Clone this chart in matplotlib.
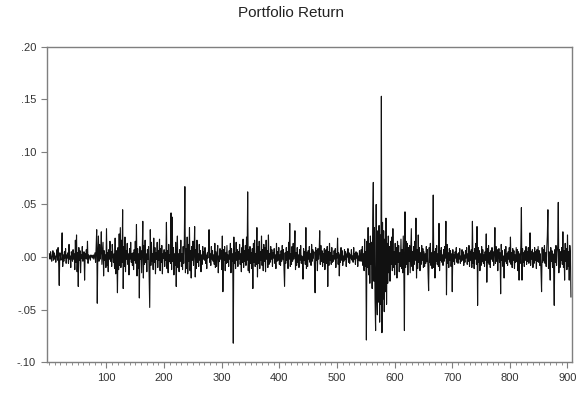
import numpy as np
import matplotlib
matplotlib.use("Agg")
import matplotlib.pyplot as plt
from matplotlib.ticker import FixedLocator, MultipleLocator, FuncFormatter

# Portfolio returns, in thousandths (obs 1..906)
ret_001_100 = [3, -2, 5, -1, -4, 2, 6, -3, 4, -2,
               1, -5, 2, 7, -3, 9, -6, -27, 4, 1,
               -3, 6, 23, -9, 2, -4, 5, -1, 8, -6,
               2, -1, 4, -6, 12, -2, 1, -10, 5, 0,
               -4, 7, -2, 3, -12, 16, -5, 21, -14, 4,
               -28, 9, -3, 6, -15, 2, -1, 10, -4, 1,
               5, -22, 3, -1, 7, -2, 15, -6, 2, -1,
               1, -3, 2, 0, 1, -1, 2, -2, 1, 4,
               -5, 9, 26, -44, 6, 20, -4, 12, -2, 5,
               24, -7, 3, 14, -18, 6, -3, 2, -10, 27]
ret_101_200 = [-8, 4, -14, 7, -2, 15, -4, 5, -9, 12,
               2, -5, 3, -11, 18, -16, 6, -3, -34, 9,
               -12, 22, -8, 28, -10, 16, -5, 45, -30, 10,
               -9, 19, -14, 6, -2, 13, -7, 3, -17, 8,
               -2, 14, -5, 3, -8, 4, -12, 7, -3, 15,
               -6, 31, -18, 8, -11, 3, -39, 10, -2, 6,
               -15, 5, 34, -20, 11, -7, 16, -5, 3, -14,
               7, -2, 10, -19, -48, 26, -8, 14, -4, 3,
               -12, 18, -5, 9, -16, 4, -2, 14, -10, 6,
               -3, 17, -13, 8, -5, 11, -16, 3, -1, 7]
ret_201_300 = [-9, 4, -3, 33, -11, 6, -15, 12, -4, 2,
               -6, 42, -12, 38, -4, 9, -17, 3, -8, 14,
               -28, 5, 20, -10, 3, -14, 7, -4, 16, -9,
               3, -12, 10, -6, 14, 67, -15, 8, -11, 19,
               -16, 12, -4, 28, -13, 6, -20, 10, -3, 15,
               -8, 4, 29, -19, 7, -11, 16, -5, 3, -9,
               12, -3, 6, -14, 2, -7, 10, -2, 5, -3,
               9, -6, 2, -11, 4, -1, 7, 26, -5, 3,
               -8, 10, -2, 6, -4, 2, -7, 13, -10, 5,
               -9, 3, 11, -15, 1, -4, 8, -2, 6, -12]
ret_301_400 = [20, -33, 7, -3, 10, -13, 4, -6, 11, -5,
               2, -9, 6, -2, 13, -15, 8, -4, 3, -82,
               19, -6, 4, -11, 14, -3, 7, -9, 5, -2,
               12, -7, 3, -14, 9, -5, 17, -10, 6, -4,
               11, -8, 19, -3, 62, -13, 7, -15, 10, -6,
               4, -11, 8, -30, 13, -5, 16, -9, 3, -7,
               28, -19, 10, -6, 15, -11, 5, -3, 20, -8,
               7, -13, 12, -4, 9, -14, 16, -2, 6, -10,
               21, -7, 3, -5, 10, -2, 7, -9, 4, -1,
               8, -6, 2, -11, 13, -4, 5, -3, 9, -7]
ret_401_500 = [2, -8, 6, -4, 11, -2, 7, -10, -28, 4,
               -6, 9, -3, 5, -11, 14, -2, 32, -9, 3,
               -7, 10, -4, 13, -2, 6, 25, -12, 4, -8,
               9, -5, 2, -10, 7, -3, 11, -6, 1, -4,
               -21, 8, -3, 5, -7, 28, -11, 4, -9, 6,
               -2, 10, -5, 3, -8, 12, -4, 7, -1, 5,
               -10, -34, 9, -3, 6, -13, 8, -2, 4, 25,
               -7, 11, -4, 6, -9, 3, -5, 8, -12, 2,
               7, -6, 10, -28, 5, -8, 13, -3, 4, -7,
               9, -5, 1, -4, 6, -2, 8, -10, 3, -1]
ret_501_600 = [18, -7, 4, -18, 2, -5, 9, -3, 6, -8,
               1, -4, 7, -2, 5, -9, 3, 0, 8, -5,
               4, -6, 2, -1, 7, -3, 1, -5, 9, -2,
               3, -7, 5, -1, 4, -9, 1, -3, 6, -4,
               -1, 7, -4, 10, -8, 3, -13, 17, -9, 5,
               -79, 15, -10, 28, -17, 13, -25, 20, -7, 14,
               -30, 35, 71, -23, 28, -40, -70, 50, -35, -55,
               25, -43, 30, -62, 21, -45, 153, -72, 33, -40,
               25, -52, 17, -33, 37, -45, 13, -25, 20, -15,
               10, -23, 15, -7, 19, -13, 27, -10, 5, -17]
ret_601_700 = [13, -7, 9, -20, 15, -5, 11, -14, 4, -9,
               17, -11, 7, -15, 20, -13, -70, 43, -10, 15,
               -7, 13, -17, 9, -4, 11, -15, 6, 27, -9,
               5, -13, 10, -7, 15, -3, 37, -20, 7, -11,
               21, -5, 9, -13, 4, -7, 11, -3, 8, -10,
               5, -9, 3, -6, 10, -4, 7, -15, -32, 9,
               -5, 13, -8, 4, -11, 7, 59, -10, 5, -20,
               8, -4, 11, -7, 3, -9, 32, -13, 6, -3,
               9, -5, 2, -8, 7, -4, 10, -1, 34, -36,
               12, -6, 4, -10, 8, -3, 6, -9, 3, -33]
ret_701_800 = [7, -4, 2, -7, 5, -1, 9, -5, 3, -6,
               4, -2, 8, -6, 1, -4, 7, -3, 5, -8,
               2, -5, 6, -1, 9, -7, 3, -4, 11, -9,
               5, -3, 7, -10, 34, -6, 4, -11, 8, -2,
               13, -7, 29, -46, 9, -5, 6, -13, 3, -8,
               10, -4, 7, -6, 2, -9, 5, -3, 22, -24,
               8, -5, 11, -7, 4, -10, 6, -2, 9, -4,
               5, -8, 3, 28, -6, 10, -4, 7, -13, 2,
               8, -5, 4, -35, 12, -3, 6, -9, 1, -20,
               7, -4, 10, -6, 3, -8, 5, -2, 9, -5]
ret_801_906 = [19, -7, 4, -10, 8, -3, 6, -11, 2, -5,
               9, -4, 7, -13, 5, -22, 3, -6, 11, 47,
               -22, 8, -5, 4, -9, 6, -3, 10, -7, 5,
               -4, 9, -6, 3, 23, -8, 5, -2, 7, -10,
               4, -6, 9, -3, 5, -11, 7, -4, 10, -5,
               6, -8, 3, -13, -33, 9, -5, 7, -3, 11,
               -6, 4, -9, 8, 20, 45, -11, 5, -7, -22,
               9, -4, 6, -10, 3, -13, -46, 7, -5, 11,
               -8, 4, 10, 52, -15, 7, -10, 5, -3, 9,
               -7, 24, -10, 6, -22, 13, -4, 8, -12, 21,
               -9, 5, -22, 11, 3, -38]

y_ticks = [-0.10, -0.05, 0.00, 0.05, 0.10, 0.15, 0.20]
x_ticks = [100, 200, 300, 400, 500, 600, 700, 800, 900]
title = "Portfolio Return"

values = np.array(ret_001_100 + ret_101_200 + ret_201_300 + ret_301_400 +
                  ret_401_500 + ret_501_600 + ret_601_700 + ret_701_800 +
                  ret_801_906, dtype=float) / 1000.0
obs = np.arange(1, len(values) + 1)

plt.rcParams['font.family'] = ['Liberation Sans', 'DejaVu Sans']

fig = plt.figure(figsize=(5.82, 3.94), dpi=100)
ax = fig.add_axes([0.081, 0.081, 0.902, 0.800])
ax.plot(obs, values, color='#111111', linewidth=0.8)

ax.set_xlim(-3, 908)
ax.set_ylim(-0.10, 0.20)
ax.xaxis.set_major_locator(FixedLocator(x_ticks))
ax.xaxis.set_minor_locator(MultipleLocator(10))
ax.yaxis.set_major_locator(FixedLocator(y_ticks))

def fmt(v, pos):
    s = f"{v:.2f}"
    s = s.replace("0.", ".", 1)
    return s
ax.yaxis.set_major_formatter(FuncFormatter(fmt))

frame_col = '#7f7f7f'
for sp in ax.spines.values():
    sp.set_color(frame_col)
    sp.set_linewidth(1.0)
ax.tick_params(axis='both', which='major', direction='out', color=frame_col,
               labelsize=8, labelcolor='#333333', width=0.8)
ax.tick_params(axis='y', which='major', length=4, pad=4)
ax.tick_params(axis='x', which='major', length=4, pad=4)
ax.tick_params(axis='x', which='minor', direction='out', length=2, color=frame_col, width=0.6)

fig.text(0.5, 0.967, title, ha='center', va='center', fontsize=11, color='#222222')

fig.savefig("out.png", dpi=100)
